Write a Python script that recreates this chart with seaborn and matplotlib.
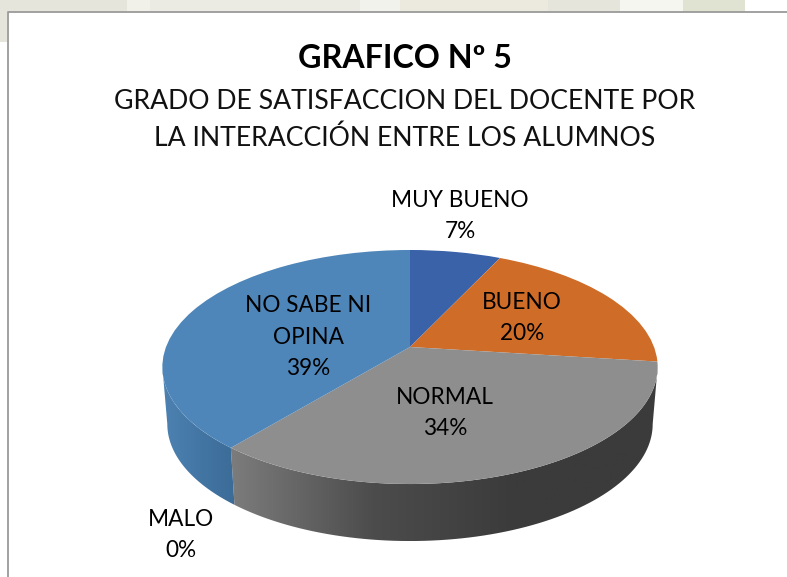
import numpy as np
import matplotlib
matplotlib.use('Agg')
import matplotlib.pyplot as plt
import seaborn as sns
from matplotlib.colors import LinearSegmentedColormap
from matplotlib.patches import Polygon, Rectangle
from matplotlib.transforms import Transform

# Datos del grafico
categorias = ['MUY BUENO', 'BUENO', 'NORMAL', 'MALO', 'NO SABE NI\nOPINA']
porcentajes = [7, 20, 34, 0, 39]
colores = ['#3a62a9', '#cf6c28', '#8e8e8e', '#a5a5a5', '#4f86ba']

titulo = 'GRAFICO Nº 5'
subtitulo = 'GRADO DE SATISFACCION DEL DOCENTE POR\nLA INTERACCIÓN ENTRE LOS ALUMNOS'

# Posicion de cada etiqueta en pixeles
pos_etiquetas = [(460, 216), (522, 318), (445, 413), (181, 535), (308, 337)]

# Geometria del pastel (pixeles de la imagen)
CX, CY = 410, 347
R, H, K = 244, 113.6, 0.171
PROF, ENCOGE = 57, 0.98
CY_ELIPSE = 367


class Perspectiva(Transform):
    # Pasa el circulo unitario del pastel a la elipse vista en perspectiva
    input_dims = 2
    output_dims = 2

    def transform_non_affine(self, values):
        v = np.asarray(values, dtype=float)
        d = 1 + K * v[:, 1]
        return np.column_stack([CX + R * v[:, 0] / d, CY - H * v[:, 1] / d])


persp = Perspectiva()


def pared(ax, ang1, ang2, cmap):
    # Pared lateral del pastel entre dos angulos, con degradado horizontal
    a = np.radians(np.linspace(ang1, ang2, 80))
    arriba = persp.transform_non_affine(np.column_stack([np.cos(a), np.sin(a)]))
    abajo = np.column_stack([CX + (arriba[:, 0] - CX) * ENCOGE, arriba[:, 1] + PROF])
    poli = Polygon(np.vstack([arriba, abajo[::-1]]), closed=True, transform=ax.transData,
                   facecolor='none', edgecolor='none')
    ax.add_patch(poli)
    x0, x1 = min(arriba[:, 0].min(), abajo[:, 0].min()), max(arriba[:, 0].max(), abajo[:, 0].max())
    y0, y1 = arriba[:, 1].min(), abajo[:, 1].max()
    grad = np.linspace(0, 1, 256).reshape(1, -1)
    im = ax.imshow(grad, extent=(x0, x1, y1, y0), cmap=cmap, aspect='auto', zorder=1)
    im.set_clip_path(poli)


sns.set_theme(style='white')
plt.rcParams['font.family'] = ['Lato', 'DejaVu Sans']

fig = plt.figure(figsize=(7.87, 5.77), dpi=100, facecolor='white')
ax = fig.add_axes([0, 0, 1, 1])

# Pastel: los sectores salen de ax.pie y luego se deforman con la perspectiva
paleta = sns.color_palette(colores)
sectores, _ = ax.pie(porcentajes, colors=paleta, startangle=90, counterclock=False)
for s in sectores:
    s.set_transform(persp + ax.transData)
    s.set_zorder(2)
    s.set_edgecolor('none')

ax.set_aspect('auto')
ax.set_xlim(0, 787)
ax.set_ylim(577, 0)
ax.axis('off')

# Paredes visibles: del lado derecho (-9.8) al izquierdo (-170.2)
cmap_gris = LinearSegmentedColormap.from_list('gris', ['#7c7c7c', '#4c4c4c', '#3b3b3b', '#3b3b3b'])
cmap_azul = LinearSegmentedColormap.from_list('azul', ['#4c82b2', '#3c6b97'])
normal, no_sabe = sectores[2], sectores[4]
pared(ax, normal.theta2 if normal.theta2 < -9.8 else -9.8, normal.theta1, cmap_gris)
pared(ax, no_sabe.theta2, -170.2, cmap_azul)

# Fondo: marca de agua arriba y marco del grafico
beige = '#e5e5db'
for x0, x1, c in [(0, 127, beige), (127, 150, '#f1f1ea'), (150, 360, '#ebebe3'),
                  (360, 400, '#f2f2ec'), (400, 548, '#ece9df'), (548, 620, beige),
                  (620, 683, '#f6f6f0'), (683, 745, '#e0e2d2')]:
    ax.add_patch(Rectangle((x0, 0), x1 - x0, 12, facecolor=c, edgecolor='none', zorder=0))
ax.add_patch(Rectangle((0, 0), 7, 42, facecolor=beige, edgecolor='none', zorder=0))
ax.plot([8, 8, 790], [580, 11.5, 11.5], color='#9a9a9a', lw=1.3, zorder=3)

# Textos
ax.text(405, 58, titulo, ha='center', va='center', fontsize=23.2, fontweight='bold', color='black')
ax.text(405, 120, subtitulo, ha='center', va='center', fontsize=19.2, color='#111111', linespacing=1.58)
for cat, pct, (x, y) in zip(categorias, porcentajes, pos_etiquetas):
    ax.text(x, y, f'{cat}\n{pct}%', ha='center', va='center', fontsize=16.3, color='black',
            linespacing=1.6, zorder=5)

plt.savefig('out.png', dpi=100)
